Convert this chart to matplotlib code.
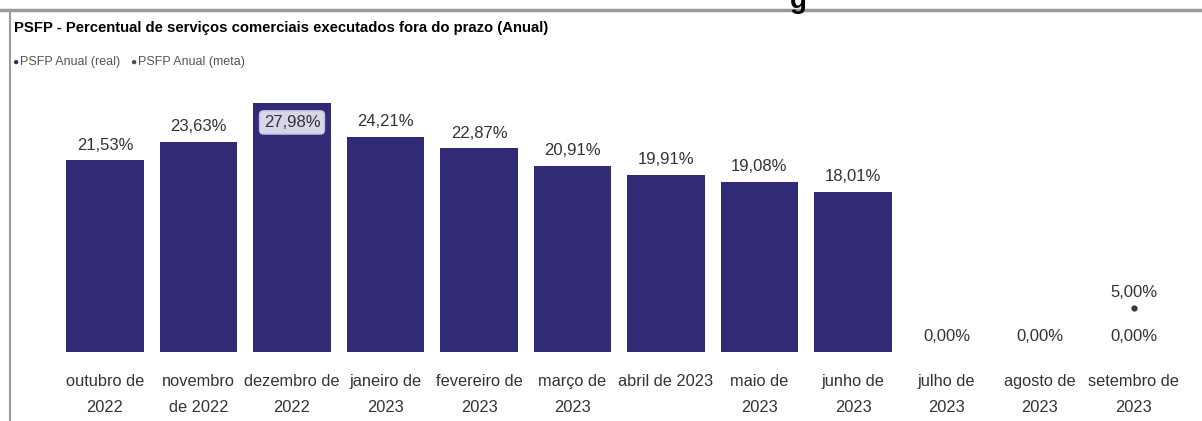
import matplotlib
matplotlib.use("Agg")
from matplotlib import pyplot as plt
from matplotlib.lines import Line2D

plt.rcParams['font.family'] = ['Liberation Sans', 'DejaVu Sans']

meses = ["outubro de\n2022", "novembro\nde 2022", "dezembro de\n2022", "janeiro de\n2023",
         "fevereiro de\n2023", "março de\n2023", "abril de 2023", "maio de\n2023",
         "junho de\n2023", "julho de\n2023", "agosto de\n2023", "setembro de\n2023"]
real = [21.53, 23.63, 27.98, 24.21, 22.87, 20.91, 19.91, 19.08, 18.01, 0.00, 0.00, 0.00]
meta = [None, None, None, None, None, None, None, None, None, None, None, 5.00]
destaque = 2

BAR = "#312a74"
TXT = "#333333"

def pct(v):
    return f"{v:.2f}%".replace(".", ",")

fig = plt.figure(figsize=(12.02, 4.21), dpi=100)
ax = fig.add_axes([0, 0, 1, 1])
ax.set_xlim(-105 / 93.5, (1202 - 105) / 93.5)
ax.set_ylim(-69 / 8.9, (421 - 69) / 8.9)
ax.axis("off")

x = list(range(len(meses)))
ax.bar(x, real, width=0.834, color=BAR)

for i, v in enumerate(real):
    if i == destaque:
        ax.annotate(pct(v), (i, v), xytext=(0, -14), textcoords="offset points",
                    ha="center", va="center", fontsize=12, color=TXT,
                    bbox=dict(boxstyle="round,pad=0.25", fc="#d8d5ea", ec="#c4c0dc"))
    else:
        ax.annotate(pct(v), (i, v), xytext=(0, 11), textcoords="offset points",
                    ha="center", va="center", fontsize=12, color=TXT)

for i, m in enumerate(meta):
    if m is None:
        continue
    ax.plot(i, m, "o", color="#3a3a3a", markersize=3.5)
    ax.annotate(pct(m), (i, m), xytext=(0, 11), textcoords="offset points",
                ha="center", va="center", fontsize=12, color=TXT)

for i, lab in enumerate(meses):
    ax.annotate(lab, (i, 0), xytext=(0, -15.5), textcoords="offset points",
                ha="center", va="top", fontsize=11.8, color=TXT, linespacing=1.95)

# moldura
fig.add_artist(Line2D([0, 1], [1 - 10 / 421] * 2, color="#9a9a9a", lw=2.5))
fig.add_artist(Line2D([10 / 1202] * 2, [0, 1 - 10 / 421], color="#9a9a9a", lw=1.5))
fig.text(798 / 1202, 1 - 1 / 421, "g", fontsize=20, fontweight="bold", ha="center", va="center")

fig.text(14 / 1202, 1 - 28 / 421, "PSFP - Percentual de serviços comerciais executados fora do prazo (Anual)",
         fontsize=10.7, fontweight="bold", color="black", va="center")
fig.text(15 / 1202, 1 - 62 / 421, "●", fontsize=7.5, color=BAR, va="center", ha="center")
fig.text(20 / 1202, 1 - 62 / 421, "PSFP Anual (real)", fontsize=9, color="#555555", va="center")
fig.text(133 / 1202, 1 - 62 / 421, "●", fontsize=7.5, color="#3f4f4f", va="center", ha="center")
fig.text(138 / 1202, 1 - 62 / 421, "PSFP Anual (meta)", fontsize=9, color="#555555", va="center")

fig.savefig("out.png", dpi=100, facecolor="white")
